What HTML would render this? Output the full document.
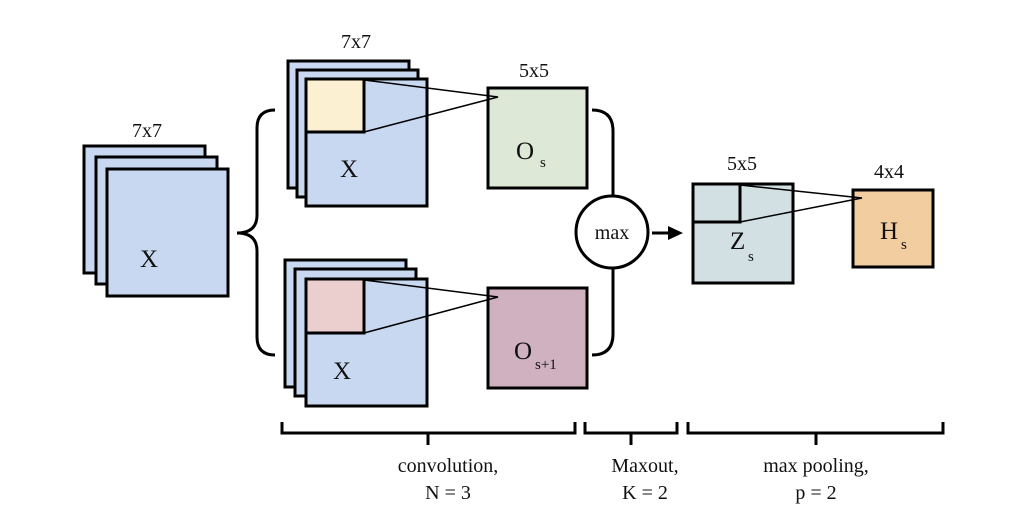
<!DOCTYPE html>
<html><head><meta charset="utf-8"><style>
html,body{margin:0;padding:0;background:#fff;}
svg{display:block;}
text{font-family:"Liberation Serif",serif;fill:#111;}
</style></head><body>
<svg width="1030" height="520" viewBox="0 0 1030 520" xmlns="http://www.w3.org/2000/svg">
<g stroke="#000" stroke-width="3" fill="#c9d8f1">
  <!-- left stack -->
  <rect x="84" y="146" width="121" height="127"/>
  <rect x="96" y="157" width="121" height="127"/>
  <rect x="107" y="169" width="121" height="127"/>
  <!-- top stack -->
  <rect x="288" y="61" width="121" height="127"/>
  <rect x="297" y="70" width="121" height="127"/>
  <rect x="306" y="79" width="121" height="127"/>
  <rect x="306" y="79" width="58" height="53" fill="#fbf1d2"/>
  <!-- bottom stack -->
  <rect x="285" y="260" width="121" height="127"/>
  <rect x="295" y="269" width="121" height="127"/>
  <rect x="306" y="279" width="121" height="127"/>
  <rect x="306" y="279" width="58" height="54" fill="#ebcfcf"/>
  <!-- O boxes -->
  <rect x="488" y="88" width="99" height="100" fill="#dde8d6"/>
  <rect x="488" y="288" width="99" height="100" fill="#d0b1c0"/>
  <!-- Z -->
  <rect x="693" y="184" width="100" height="99" fill="#d3e0e3"/>
  <rect x="693" y="184" width="47" height="38" fill="none"/>
  <!-- H -->
  <rect x="853" y="190" width="80" height="77" fill="#f2cd9f"/>
</g>
<g stroke="#000" stroke-width="1.5" fill="none">
  <polyline points="364,80 498,97 364,132"/>
  <polyline points="364,280 498,297 364,333"/>
  <polyline points="740,185 862,198 740,222"/>
</g>
<g stroke="#000" stroke-width="3" fill="none">
  <!-- left brace -->
  <path d="M275,110 Q257,110 257,128 L257,215 Q257,233 237,233 Q257,233 257,251 L257,337 Q257,355 275,355"/>
  <!-- right brace -->
  <path d="M592,110 Q613,110 613,131 L613,197"/>
  <path d="M613,267 L613,334 Q613,355 592,355"/>
  <circle cx="612" cy="232" r="36" fill="#fff"/>
  <line x1="652" y1="233" x2="670" y2="233"/>
  <!-- bottom braces -->
  <path d="M282,422 L282,433 L575,433 L575,422 M428,433 L428,445"/>
  <path d="M585,422 L585,433 L677,433 L677,422 M631,433 L631,445"/>
  <path d="M688,422 L688,433 L943,433 L943,422 M816,433 L816,445"/>
</g>
<polygon points="668,226 683,233 668,240" fill="#000"/>
<g font-size="20" text-anchor="middle">
  <text x="147" y="137">7x7</text>
  <text x="356" y="48">7x7</text>
  <text x="534" y="77">5x5</text>
  <text x="742" y="170">5x5</text>
  <text x="889" y="178">4x4</text>
  <text x="612" y="239">max</text>
  <text x="448" y="472">convolution,</text>
  <text x="448" y="499">N = 3</text>
  <text x="645" y="472">Maxout,</text>
  <text x="645" y="499">K = 2</text>
  <text x="816" y="472">max pooling,</text>
  <text x="816" y="499">p = 2</text>
</g>
<g font-size="25">
  <text x="140" y="267">X</text>
  <text x="340" y="177">X</text>
  <text x="333" y="379">X</text>
  <text x="516" y="159">O</text><text x="540" y="167" font-size="15">s</text>
  <text x="514" y="359">O</text><text x="535" y="369" font-size="15">s+1</text>
  <text x="730" y="249">Z</text><text x="748" y="261" font-size="15">s</text>
  <text x="880" y="239">H</text><text x="901" y="249" font-size="15">s</text>
</g>
</svg>
</body></html>
